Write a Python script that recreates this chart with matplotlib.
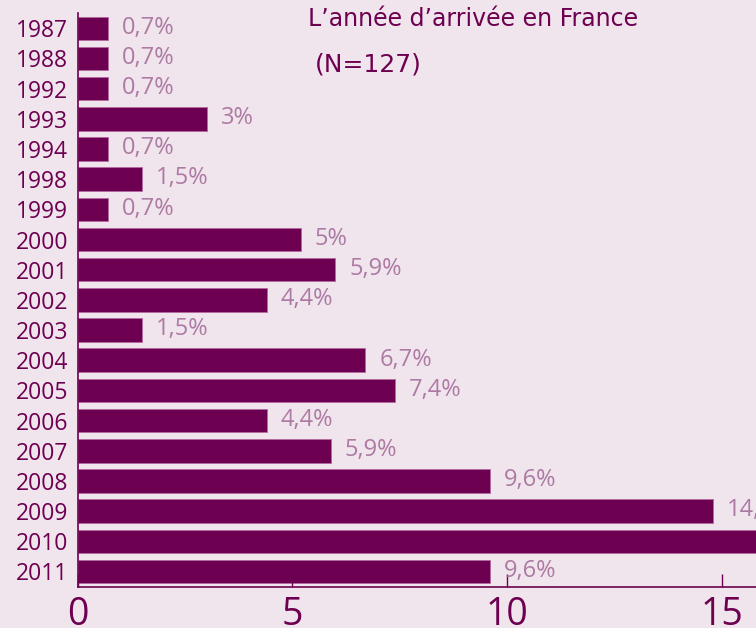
import matplotlib.pyplot as plt

BG = "#f0e4ed"
BAR = "#6d0050"
LABEL = "#ad7aa3"

# data
years = ["1987", "1988", "1992", "1993", "1994", "1998", "1999", "2000", "2001", "2002",
         "2003", "2004", "2005", "2006", "2007", "2008", "2009", "2010", "2011"]
values = [0.7, 0.7, 0.7, 3.0, 0.7, 1.5, 0.7, 5.2, 6.0, 4.4,
          1.5, 6.7, 7.4, 4.4, 5.9, 9.6, 14.8, 16.3, 9.6]
labels = ["0,7%", "0,7%", "0,7%", "3%", "0,7%", "1,5%", "0,7%", "5%", "5,9%", "4,4%",
          "1,5%", "6,7%", "7,4%", "4,4%", "5,9%", "9,6%", "14,8%", "16,3%", "9,6%"]
xticks = [0, 5, 10, 15]

plt.rcParams["font.family"] = ["Open Sans", "DejaVu Sans"]

fig = plt.figure(figsize=(7.56, 6.28), dpi=100, facecolor=BG)
ax = fig.add_axes([0.103, 0.066, 0.897, 0.913], facecolor=BG)

pos = list(range(len(years)))
ax.barh(pos, values, height=0.78, color=BAR, edgecolor="#b36a9e", linewidth=0.6)

for y, v, t in zip(pos, values, labels):
    ax.annotate(t, (v, y), xytext=(10, 0.5), textcoords="offset points",
                va="center", ha="left", color=LABEL, fontsize=17,
                annotation_clip=False)

ax.set_xlim(0, 15.8)
ax.set_ylim(18.5, -0.5)
ax.set_yticks(pos)
ax.set_yticklabels(years)
ax.set_xticks(xticks)

for s in ["top", "right"]:
    ax.spines[s].set_visible(False)
for s in ["left", "bottom"]:
    ax.spines[s].set_color(BAR)
    ax.spines[s].set_linewidth(1.2)

ax.tick_params(axis="y", length=0, pad=7, labelsize=16.5, labelcolor=BAR)
ax.tick_params(axis="x", direction="in", length=9.5, width=1, color=BAR,
               pad=7, labelsize=27, labelcolor=BAR)

fig.text(0.408, 0.969, "L\u2019année d\u2019arrivée en France", color=BAR,
         fontsize=17, ha="left", va="center", family=["DejaVu Sans"])
fig.text(0.417, 0.897, "(N=127)", color=BAR, fontsize=18,
         ha="left", va="center", family=["DejaVu Sans"])

fig.savefig("out.png", dpi=100, facecolor=BG)
